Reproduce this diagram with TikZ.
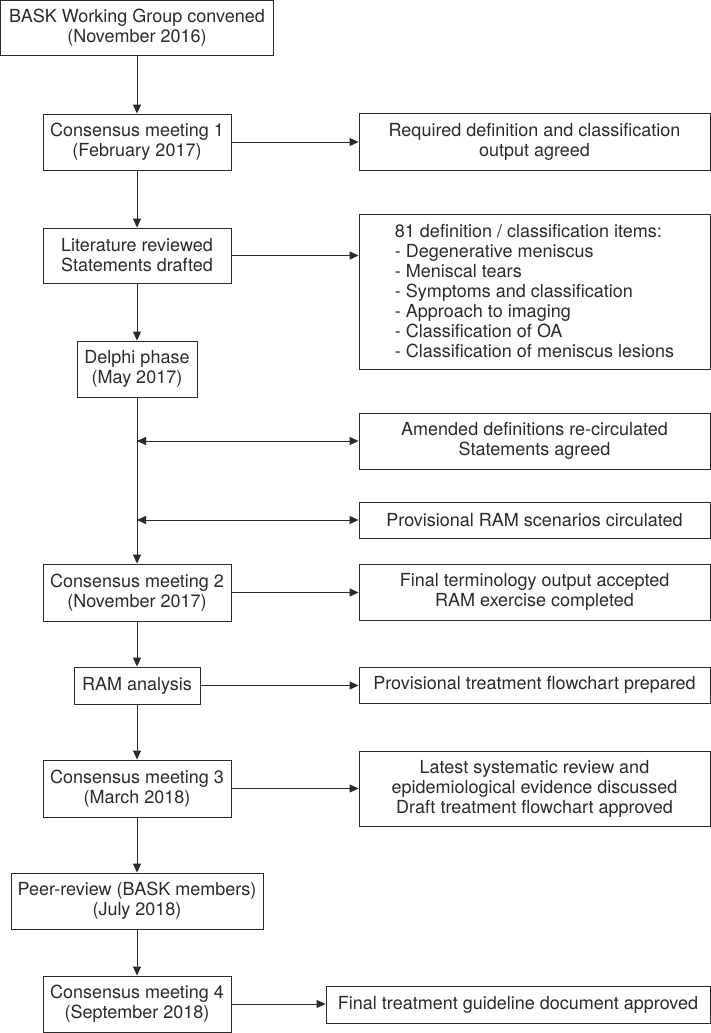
\documentclass[tikz,border=0pt]{standalone}
\usepackage{fontspec}
\setmainfont{TeX Gyre Heros}
\usetikzlibrary{arrows.meta,calc}
\definecolor{ln}{HTML}{2A2A2A}
\begin{document}
\begin{tikzpicture}[x=1pt,y=-1pt,
  box/.style={draw=ln, line width=0.9pt, inner sep=0pt, align=center,
    font=\fontsize{18}{20}\selectfont, text=ln},
  lbox/.style={box, minimum width=188pt, minimum height=56pt},
  rbox/.style={box, minimum width=351pt},
  arr/.style={draw=ln, line width=0.9pt, -{Triangle[length=9pt,width=8pt]}},
  darr/.style={draw=ln, line width=0.9pt, {Triangle[length=9pt,width=8pt]}-{Triangle[length=9pt,width=8pt]}}]
\useasboundingbox (0,0) rectangle (711,1033);
% left column
\node[box, minimum width=273pt, minimum height=55pt] (A) at (137,28) {BASK Working Group convened\\(November 2016)};
\node[lbox] (B) at (137,142) {Consensus meeting 1\\(February 2017)};
\node[lbox, minimum height=55pt] (C) at (137,255.5) {Literature reviewed\\Statements drafted};
\node[box, minimum width=120pt, minimum height=56pt] (D) at (137,369) {Delphi phase\\(May 2017)};
\node[lbox, minimum height=57pt] (E) at (137,592.5) {Consensus meeting 2\\(November 2017)};
\node[box, minimum width=126pt, minimum height=37pt] (F) at (137,685.5) {RAM analysis};
\node[lbox, minimum height=57pt] (G) at (137,788.5) {Consensus meeting 3\\(March 2018)};
\node[box, minimum width=252pt, minimum height=56pt] (H) at (137,901) {Peer-review (BASK members)\\(July 2018)};
\node[lbox] (I) at (137,1004) {Consensus meeting 4\\(September 2018)};
% right column
\node[rbox, minimum height=57pt] (R1) at (534.5,141.5) {Required definition and classification\\output agreed};
\node[rbox, minimum height=155pt, align=left] (R2) at (534.5,291.5) {81 definition / classification items:\\- Degenerative meniscus\\- Meniscal tears\\- Symptoms and classification\\- Approach to imaging\\- Classification of OA\\- Classification of meniscus lesions};
\node[rbox, minimum height=56pt] (R3) at (534.5,441) {Amended definitions re-circulated\\Statements agreed};
\node[rbox, minimum height=36pt] (R4) at (534.5,520) {Provisional RAM scenarios circulated};
\node[rbox, minimum height=56pt] (R5) at (534.5,592) {Final terminology output accepted\\RAM exercise completed};
\node[rbox, minimum height=36pt] (R6) at (534.5,685) {Provisional treatment flowchart prepared};
\node[rbox, minimum height=75pt] (R7) at (534.5,788.5) {Latest systematic review and\\epidemiological evidence discussed\\Draft treatment flowchart approved};
\node[box, minimum width=384pt, minimum height=37pt] (R8) at (518,1004.5) {Final treatment guideline document approved};
% vertical flow
\draw[arr] (A) -- (B);
\draw[arr] (B) -- (C);
\draw[arr] (C) -- (D);
\draw[arr] (D) -- (E);
\draw[arr] (E) -- (F);
\draw[arr] (F) -- (G);
\draw[arr] (G) -- (H);
\draw[arr] (H) -- (I);
% horizontal
\draw[arr] (B.east) -- (B.east -| R1.west);
\draw[arr] (C.east) -- (C.east -| R2.west);
\draw[darr] (D.south |- R3.west) -- (R3.west);
\draw[darr] (D.south |- R4.west) -- (R4.west);
\draw[arr] (E.east) -- (E.east -| R5.west);
\draw[arr] (F.east) -- (F.east -| R6.west);
\draw[arr] (G.east) -- (G.east -| R7.west);
\draw[arr] (I.east) -- (I.east -| R8.west);
\end{tikzpicture}
\end{document}
